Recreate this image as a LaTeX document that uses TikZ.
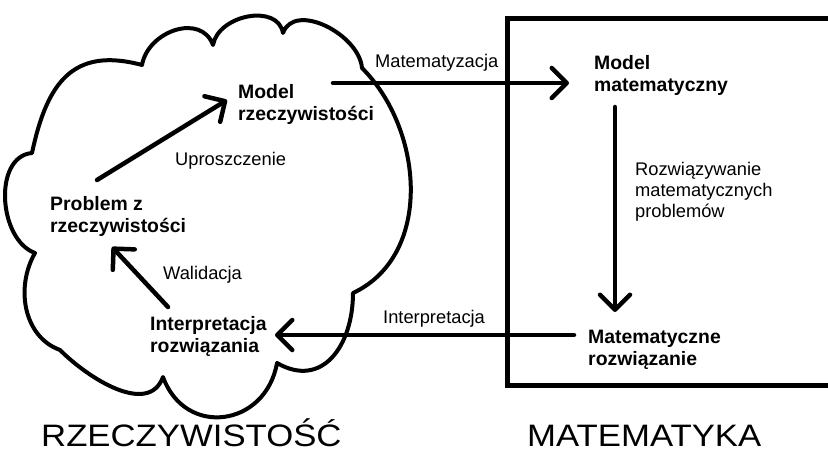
\documentclass[tikz,border=0pt]{standalone}
\usepackage{fontspec}
\setmainfont{Liberation Sans}
\newfontfamily\widesans[FakeStretch=1.12]{Liberation Sans}
\usetikzlibrary{arrows.meta}

\begin{document}
\begin{tikzpicture}[
    x=1pt, y=-1pt, % pixel units, y going down
    >={Straight Barb[length=15pt,width=30pt,round]}, % arrow head style
    every node/.style={inner sep=0pt, anchor=north west, align=left},
    stage/.style={font=\fontsize{19.4}{22}\selectfont\bfseries},
    lbl/.style={font=\fontsize{18.3}{20.8}\selectfont},
    world/.style={font=\widesans\fontsize{31}{34}\selectfont, anchor=base west},
    flow/.style={->, line width=4.5pt, line cap=round} % arrow line style
]
\useasboundingbox (0,0) rectangle (828,452);

% cloud
\draw[line width=4pt, line join=round]
  (32,153) to[out=78, in=165, looseness=1.3] (142,65)
  to[out=80, in=110, looseness=1.2] (213,45)
  to[out=80, in=100, looseness=1.1] (283,33)
  to[out=70, in=95] (362,68)
  to[out=-45, in=25] (353,293)
  to[out=-90, in=-30, looseness=1.3] (277,363)
  to[out=-100, in=-70, looseness=1.45] (163,377)
  to[out=-110, in=-45] (60,350)
  to[out=-200, in=-120] (35,253)
  to[out=-200, in=-175] cycle;

% box
\draw[line width=5pt] (828,19) -- (507,19) -- (507,385) -- (828,385);

\node[stage] (modelrz) at (238,84) {Model\\rzeczywisto\'sci};
\node[stage] (problem) at (50,196) {Problem z\\rzeczywisto\'sci};
\node[stage] (interp) at (150,316) {Interpretacja\\rozwi\k{a}zania};
\node[stage] (modelmat) at (594,55) {Model\\matematyczny};
\node[stage] (rozw) at (588,330) {Matematyczne\\rozwi\k{a}zanie};

\node[lbl] (matem) at (375,54) {Matematyzacja};
\node[lbl] (upr) at (175,152) {Uproszczenie};
\node[lbl] (walid) at (163,266) {Walidacja};
\node[lbl] (interl) at (383,310) {Interpretacja};
\node[lbl] (rozwl) at (635,162) {Rozwi\k{a}zywanie\\matematycznych\\problem\'ow};

\node[world] (rzecz) at (41,446) {RZECZYWISTO\'S\'C};
\node[world] (mat) at (527,446) {MATEMATYKA};

% arrow ends
\coordinate (m1) at (333,83);
\coordinate (m2) at (569,83);
\coordinate (r1) at (615,107);
\coordinate (r2) at (615,312);
\coordinate (i1) at (574,335);
\coordinate (i2) at (275,335);
\coordinate (u1) at (97,180);
\coordinate (u2) at (227,100);
\coordinate (w1) at (168,307);
\coordinate (w2) at (112,247);

\draw[flow] (m1) -- (m2);
\draw[flow] (r1) -- (r2);
\draw[flow] (i1) -- (i2);
\draw[flow] (u1) -- (u2);
\draw[flow] (w1) -- (w2);
\end{tikzpicture}
\end{document}
